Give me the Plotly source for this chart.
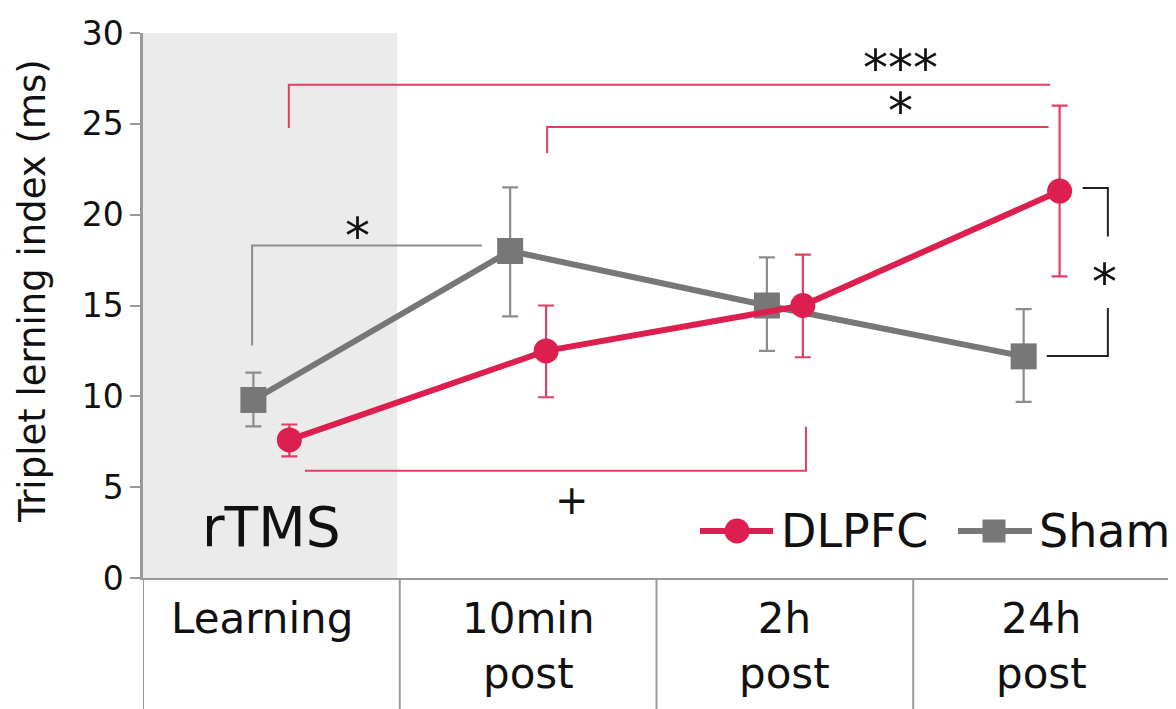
import plotly.graph_objects as go

# ---- data ----
categories = ["Learning", "10min<br>post", "2h<br>post", "24h<br>post"]
dlpfc_mean = [7.6, 12.5, 15.0, 21.3]
dlpfc_upper = [8.45, 15.0, 17.8, 26.0]
dlpfc_lower = [6.7, 9.95, 12.15, 16.6]
sham_mean = [9.8, 18.0, 15.0, 12.2]
sham_upper = [11.3, 21.5, 17.65, 14.8]
sham_lower = [8.35, 14.4, 12.5, 9.7]
y_ticks = [0, 5, 10, 15, 20, 25, 30]
y_title = "Triplet lerning index (ms)"

RED = "#dc1f4e"
RED_THIN = "#e23d63"
GRAY = "#777777"
GRAY_THIN = "#8c8c8c"
AXIS = "#999999"
FONT = "DejaVu Sans"

OFF = 8  # page body margin
W, H = 1176 - OFF, 709 - OFF
ML, MT = 143 - OFF, 33 - OFF
MR = W - (1170 - OFF)
MB = H - (578 - OFF)
PW = W - ML - MR
PH = H - MT - MB

def px(xp):
    return (xp - OFF - ML) / PW

def py(yp):
    return (H - MB - (yp - OFF)) / PH

off = 0.07
xi = list(range(len(categories)))
x_d = [i + off for i in xi]
x_s = [i - off for i in xi]

fig = go.Figure()
fig.add_trace(go.Scatter(
    x=x_s, y=sham_mean, mode="lines+markers", name="Sham",
    line=dict(color=GRAY, width=6),
    marker=dict(symbol="square", size=26, color=GRAY),
    error_y=dict(type="data", symmetric=False,
                 array=[u - m for u, m in zip(sham_upper, sham_mean)],
                 arrayminus=[m - l for m, l in zip(sham_mean, sham_lower)],
                 color=GRAY_THIN, thickness=2.2, width=8),
    showlegend=False))
fig.add_trace(go.Scatter(
    x=x_d, y=dlpfc_mean, mode="lines+markers", name="DLPFC",
    line=dict(color=RED, width=6),
    marker=dict(symbol="circle", size=25, color=RED),
    error_y=dict(type="data", symmetric=False,
                 array=[u - m for u, m in zip(dlpfc_upper, dlpfc_mean)],
                 arrayminus=[m - l for m, l in zip(dlpfc_mean, dlpfc_lower)],
                 color=RED_THIN, thickness=2.2, width=8),
    showlegend=False))

shapes = []
# shaded rTMS region
shapes.append(dict(type="rect", xref="x", yref="y", x0=-0.5, x1=0.49, y0=0, y1=30,
                   fillcolor="#ebebeb", line=dict(width=0), layer="below"))
# table lines below plot
tb = -MB / PH
for xv in [-0.5, 0.5, 1.5, 2.5, 3.5]:
    shapes.append(dict(type="line", xref="x", yref="paper", x0=xv, x1=xv, y0=0, y1=tb,
                       line=dict(color=AXIS, width=2)))

def bracket(pts, color, width=2):
    path = "M " + " L ".join(f"{x},{y}" for x, y in pts)
    shapes.append(dict(type="path", xref="x", yref="y", path=path,
                       line=dict(color=color, width=width)))

# significance brackets
bracket([(0.068, 24.77), (0.068, 27.15), (3.033, 27.15)], RED_THIN)
bracket([(1.074, 23.4), (1.074, 24.82), (3.027, 24.82)], RED_THIN)
bracket([(-0.075, 12.8), (-0.075, 18.3), (0.82, 18.3)], GRAY_THIN)
bracket([(3.16, 21.47), (3.258, 21.47), (3.258, 18.8)], "#222222")
bracket([(3.258, 14.86), (3.258, 12.22), (3.02, 12.22)], "#222222")
bracket([(0.131, 5.9), (2.082, 5.9), (2.082, 8.32)], RED_THIN)

# manual legend
leg_y = py(531)
shapes.append(dict(type="line", xref="paper", yref="paper", x0=px(700), x1=px(773),
                   y0=leg_y, y1=leg_y, line=dict(color=RED, width=6)))
shapes.append(dict(type="circle", xref="paper", yref="paper", xsizemode="pixel",
                   ysizemode="pixel", xanchor=px(737), yanchor=leg_y,
                   x0=-12.5, x1=12.5, y0=-12.5, y1=12.5,
                   fillcolor=RED, line=dict(width=0)))
shapes.append(dict(type="line", xref="paper", yref="paper", x0=px(958), x1=px(1032),
                   y0=leg_y, y1=leg_y, line=dict(color=GRAY, width=6)))
shapes.append(dict(type="rect", xref="paper", yref="paper", xsizemode="pixel",
                   ysizemode="pixel", xanchor=px(994), yanchor=leg_y,
                   x0=-11.5, x1=11.5, y0=-11.5, y1=11.5,
                   fillcolor=GRAY, line=dict(width=0)))

annotations = []
def txt(x, y, s, size, xref="x", yref="y", xanchor="center", yanchor="middle", **kw):
    annotations.append(dict(x=x, y=y, xref=xref, yref=yref, text=s, showarrow=False,
                            xanchor=xanchor, yanchor=yanchor,
                            font=dict(family=FONT, size=size, color="#111111"), **kw))

STAR = 50
txt(2.45, 28.05, "***", STAR)
txt(2.45, 25.7, "*", STAR)
txt(0.337, 18.8, "*", STAR)
txt(3.243, 16.3, "*", STAR)
txt(1.171, 4.29, "+", 40)
txt(0.0, 2.8, "rTMS", 55)
txt(px(779), leg_y, "DLPFC", 46, xref="paper", yref="paper", xanchor="left")
txt(px(1037), leg_y, "Sham", 46, xref="paper", yref="paper", xanchor="left")
txt(px(32), py(291), y_title, 37, xref="paper", yref="paper", textangle=-90)

# category labels
label_shift = [-0.035, 0.0, 0.0, 0.0]
for i, c in enumerate(categories):
    txt(i + label_shift[i], py(592), c, 42, xref="x", yref="paper", yanchor="top")

fig.update_layout(
    width=W, height=H,
    margin=dict(l=ML, r=MR, t=MT, b=MB),
    plot_bgcolor="white", paper_bgcolor="white",
    font=dict(family=FONT, color="#111111"),
    shapes=shapes, annotations=annotations,
    xaxis=dict(range=[-0.5, 3.5], showgrid=False, zeroline=False, showticklabels=False,
               ticks="", showline=True, linecolor=AXIS, linewidth=2),
    yaxis=dict(range=[0, 30], tickvals=y_ticks, showgrid=False, zeroline=False,
               showline=True, linecolor=AXIS, linewidth=2.5, ticks="outside",
               ticklen=10, tickwidth=2, tickcolor=AXIS,
               tickfont=dict(family=FONT, size=33, color="#111111")),
    showlegend=False,
)

fig.write_html("out.html")
